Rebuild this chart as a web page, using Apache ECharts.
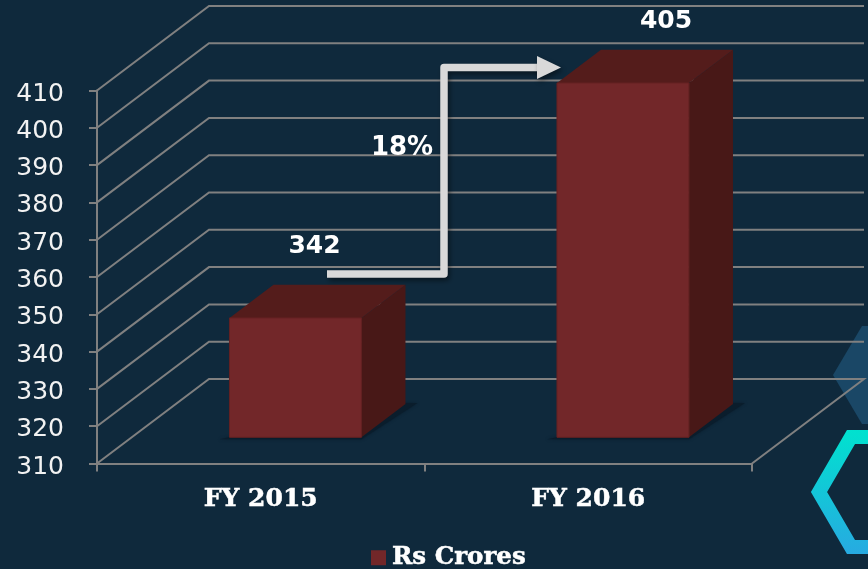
<!DOCTYPE html>
<html>
<head>
<meta charset="utf-8">
<style>html,body{margin:0;padding:0;background:#0f293c}#c{width:868px;height:569px}</style>
<script src="https://cdn.jsdelivr.net/npm/echarts@6/dist/echarts.min.js"></script>
</head>
<body>
<div id="c"></div>
<script>
const categories = ['FY 2015', 'FY 2016'];
const values = [342, 405];
const seriesName = 'Rs Crores';
const gridValues = [310, 320, 330, 340, 350, 360, 370, 380, 390, 400, 410];
const growthLabel = '18%';

const AXIS = '#808080', TEXT = '#ffffff', BG = '#0f293c';
const DEPTH_X = 112, DEPTH_Y = 84.5;           // full floor depth in pixels
const BAR_FRONT = 0.31, BAR_DEPTH = 0.393, BAR_W = 0.403;

function shift(p, d) { return [p[0] + d * DEPTH_X, p[1] - d * DEPTH_Y]; }

function renderWall(params, api) {
  const v = api.value(0);
  const l = api.coord([0, v]);
  const size = api.size([1, 0])[0];
  const left = [l[0] - size / 2, l[1]];
  const right = [l[0] + size * 1.5, l[1]];
  const pts = [left, shift(left, 1), shift(right, 1)];
  if (v === gridValues[0]) pts.push(right);
  return { type: 'polyline', shape: { points: pts }, silent: true,
    style: { fill: null, stroke: AXIS, lineWidth: 2 } };
}

function renderBar(params, api) {
  const cat = api.value(0), val = api.value(1);
  const top = api.coord([cat, val]);
  const base = api.coord([cat, gridValues[0]]);
  const hw = api.size([1, 0])[0] * BAR_W / 2;
  const fl = shift([top[0] - hw, top[1]], BAR_FRONT), fr = shift([top[0] + hw, top[1]], BAR_FRONT);
  const bl = shift([base[0] - hw, base[1]], BAR_FRONT), br = shift([base[0] + hw, base[1]], BAR_FRONT);
  const s = BAR_DEPTH;
  const fill = api.visual('color');
  return { type: 'group', children: [
    { type: 'polygon', silent: true,
      shape: { points: [[bl[0] - 10, bl[1] + 2], [br[0], br[1] + 2], shift([br[0] + 12, br[1] - 1], s), shift([br[0], br[1] - 1], s), [bl[0], bl[1]]] },
      style: { fill: '#0a1d2c', shadowBlur: 3, shadowColor: '#0a1d2c' } },
    { type: 'polygon', shape: { points: [fr, shift(fr, s), shift(br, s), br] }, style: { fill: '#481817' } },
    { type: 'polygon', shape: { points: [fl, shift(fl, s), shift(fr, s), fr] }, style: { fill: '#541c1b' } },
    { type: 'polygon', shape: { points: [fl, fr, br, bl] }, style: { fill: fill, stroke: '#642122', lineWidth: 1 } }
  ] };
}

const chart = echarts.init(document.getElementById('c'), null, { renderer: 'canvas' });
chart.setOption({
  animation: false,
  backgroundColor: BG,
  grid: { left: 97, right: 116, top: 90.5, bottom: 105.5 },
  legend: {
    data: [{ name: seriesName, icon: 'rect' }],
    left: 366, top: 540, itemWidth: 15, itemHeight: 15, itemGap: 0,
    textStyle: { color: TEXT, fontFamily: 'DejaVu Serif', fontWeight: 'bold', fontSize: 24.5, padding: [2, 0, 0, 1], textBorderColor: TEXT, textBorderWidth: 0.5 },
    selectedMode: false
  },
  xAxis: {
    type: 'category', data: categories,
    axisLine: { lineStyle: { color: AXIS, width: 2 } },
    axisTick: { show: true, length: 8, lineStyle: { color: AXIS, width: 2 } },
    axisLabel: { color: TEXT, fontFamily: 'DejaVu Serif', fontWeight: 'bold', fontSize: 25, margin: 23, textBorderColor: TEXT, textBorderWidth: 0.5 }
  },
  yAxis: {
    type: 'value', min: 310, max: 410, interval: 10,
    splitLine: { show: false },
    axisLine: { show: true, lineStyle: { color: AXIS, width: 2 } },
    axisTick: { show: true, length: 8, lineStyle: { color: AXIS, width: 2 } },
    axisLabel: { color: '#f2f2f2', fontFamily: 'DejaVu Sans', fontSize: 25, margin: 33, verticalAlign: 'top', lineHeight: 7 }
  },
  series: [
    { type: 'custom', name: 'grid', silent: true, z: 2, renderItem: renderWall,
      data: gridValues.map(v => [v]), encode: { y: 0 } },
    { type: 'custom', name: seriesName, z: 3, renderItem: renderBar,
      itemStyle: { color: '#722729' },
      data: categories.map((c, i) => [i, values[i]]), encode: { x: 0, y: 1 } }
  ],
  graphic: [
    { type: 'polygon', z: 0, silent: true,
      shape: { points: [[833, 375], [862, 326], [925, 326], [955, 375], [925, 424], [862, 424]] },
      style: { fill: '#1a4766' } },
    { type: 'polygon', z: 0, silent: true,
      shape: { points: [[819, 492], [851, 437], [930, 437], [962, 492], [930, 547], [851, 547]] },
      style: { fill: null, lineWidth: 14, lineJoin: 'miter',
        stroke: new echarts.graphic.LinearGradient(0, 0, 0, 1, [
          { offset: 0, color: '#00e2cf' }, { offset: 1, color: '#27aae1' }]) } },
    { type: 'polyline', z: 10, silent: true,
      shape: { points: [[327, 274], [444, 274], [444, 67.5], [540, 67.5]] },
      style: { fill: null, stroke: '#d9d9d9', lineWidth: 7.5, lineJoin: 'round',
        shadowBlur: 5, shadowOffsetX: 2, shadowOffsetY: 3, shadowColor: 'rgba(0,0,0,0.45)' } },
    { type: 'polygon', z: 10, silent: true,
      shape: { points: [[537, 56], [561, 67.5], [537, 79]] },
      style: { fill: '#d9d9d9', shadowBlur: 5, shadowOffsetX: 2, shadowOffsetY: 3, shadowColor: 'rgba(0,0,0,0.45)' } },
    { type: 'text', z: 11, silent: true, style: { x: 314.5, y: 246, text: String(values[0]), fill: TEXT, align: 'center', verticalAlign: 'middle', font: 'bold 25px "DejaVu Sans"' } },
    { type: 'text', z: 11, silent: true, style: { x: 666, y: 21, text: String(values[1]), fill: TEXT, align: 'center', verticalAlign: 'middle', font: 'bold 25px "DejaVu Sans"' } },
    { type: 'text', z: 11, silent: true, style: { x: 402, y: 148, text: growthLabel, fill: TEXT, align: 'center', verticalAlign: 'middle', font: 'bold 26px "DejaVu Sans"' } }
  ]
});
</script>
</body>
</html>
